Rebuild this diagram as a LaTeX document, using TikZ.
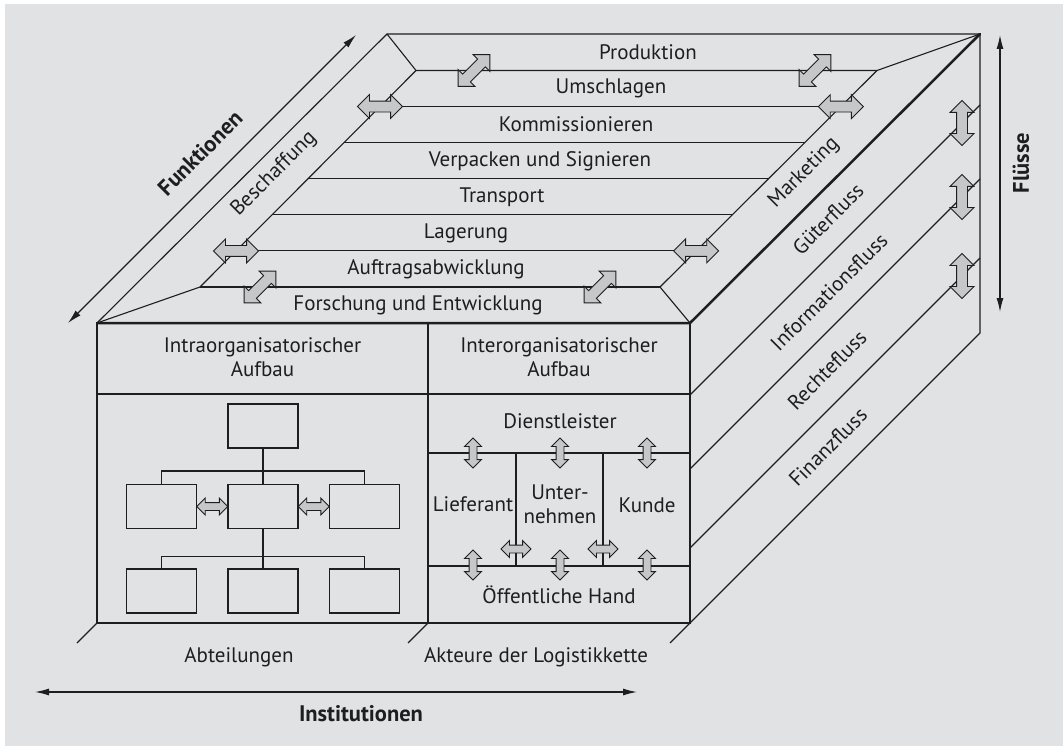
\documentclass[tikz,border=0pt]{standalone}
\usepackage{fontspec}
\setmainfont{PT Sans}
\usetikzlibrary{calc,shapes.arrows,arrows.meta}

\definecolor{panel}{HTML}{E1E2E4}
\definecolor{ink}{HTML}{1E1E1E}
\definecolor{arrowfill}{HTML}{C6C7C9}

\begin{document}
\begin{tikzpicture}[x=1pt, y=-1pt,
    edge/.style={draw=ink, line width=1.1pt},
    rim/.style={draw=ink, line width=2.5pt, line cap=round},
    lbl/.style={font=\fontsize{21}{24}\selectfont, text=ink, inner sep=0pt, align=center},
    axis/.style={font=\bfseries\fontsize{22.5}{25}\selectfont, text=ink, inner sep=0pt},
    axisarrow/.style={draw=ink, line width=1.2pt, {Latex[length=14pt,width=7pt]}-{Latex[length=14pt,width=7pt]}},
    orgbox/.style={draw=ink, line width=1.1pt, minimum width=70pt, minimum height=44pt, inner sep=0pt},
    bigdbl/.style={double arrow, draw=ink, fill=arrowfill, line width=0.9pt, inner sep=0pt,
        inner ysep=5pt, minimum height=45pt, double arrow head extend=6.5pt},
    smalldbl/.style={double arrow, draw=ink, fill=arrowfill, line width=0.9pt, inner sep=0pt,
        inner ysep=3.5pt, minimum height=30pt, double arrow head extend=4.5pt}
]
    \useasboundingbox (0,0) rectangle (1063,746);
    \fill[white] (0,0) rectangle (1063,746);
    \fill[panel] (5,4) rectangle (1063,746);

    % corners of the cube
    \coordinate (ftl) at (97,323);
    \coordinate (ftr) at (690,323);
    \coordinate (fbl) at (97,623);
    \coordinate (fbr) at (690,623);
    \coordinate (btl) at (387,34);
    \coordinate (btr) at (980,34);
    \coordinate (bbr) at (980,333);
    \coordinate (itl) at (416,70.5);
    \coordinate (itr) at (877,70.5);
    \coordinate (ibr) at (660,287);
    \coordinate (ibl) at (200,287);

    % top face: functions
    \draw[edge] (ftl) -- (btl) -- (btr);
    \draw[edge] (btl) -- (itl) -- (itr) -- (btr);
    \draw[edge] (ftl) -- (ibl) -- (itl);
    \draw[edge] (ftr) -- (ibr) -- (itr);
    \draw[edge] (ibl) -- (ibr);
    \foreach \k in {1,...,5}
        \draw[edge] ($(itl)!\k/6!(ibl)$) -- ($(itr)!\k/6!(ibr)$);

    % right face: flows
    \draw[edge] (btr) -- (bbr) -- (fbr);
    \foreach \y/\n in {105/1, 179/2, 258/3}
        \draw[edge] (980,\y) coordinate (fl\n) -- ++(-290,290);

    % front face: institutions
    \draw[draw=ink, line width=1.7pt] (ftl) rectangle (fbr);
    \draw[edge] (97,394) -- (690,394);
    \draw[edge] (428,323) -- (428,623);
    \draw[edge] (428,453) -- (690,453);
    \draw[edge] (428,566) -- (690,566);
    \draw[edge] (516,453) -- (516,566);
    \draw[edge] (603,453) -- (603,566);
    \foreach \x in {97,428,690}
        \draw[edge] (\x,623) -- ++(-20,20);
    \draw[rim] (ftl) -- (ftr) -- (btr);
    \draw[rim] (ftr) -- (fbr);

    % function labels
    \node[lbl] (prod) at (648,52) {Produktion};
    \node[lbl] (umsch) at (611,88) {Umschlagen};
    \node[lbl] (komm) at (576,124) {Kommissionieren};
    \node[lbl] (verp) at (540,161) {Verpacken und Signieren};
    \node[lbl] (trans) at (502,197) {Transport};
    \node[lbl] (lager) at (466,233) {Lagerung};
    \node[lbl] (auftr) at (436,269) {Auftragsabwicklung};
    \node[lbl] (fue) at (418,305) {Forschung und Entwicklung};
    \node[lbl, rotate=45] (besch) at (274,174) {Beschaffung};
    \node[lbl, rotate=45] (mark) at (804,173) {Marketing};

    % flow labels
    \node[lbl, rotate=45] (gut) at (828,219) {Güterfluss};
    \node[lbl, rotate=45] (info) at (829,292) {Informationsfluss};
    \node[lbl, rotate=45] (recht) at (827,370) {Rechtefluss};
    \node[lbl, rotate=45] (fin) at (828,447) {Finanzfluss};

    % arrows on the top and right faces
    \node[bigdbl] (hl1) at ($(itl)!1/6!(ibl)$) {};
    \node[bigdbl] (hr1) at ($(itr)!1/6!(ibr)$) {};
    \node[bigdbl] (hl5) at ($(itl)!5/6!(ibl)$) {};
    \node[bigdbl] (hr5) at ($(itr)!5/6!(ibr)$) {};
    \node[bigdbl, rotate=45] (dt1) at (474,70.5) {};
    \node[bigdbl, rotate=45] (dt2) at (815,70.5) {};
    \node[bigdbl, rotate=45] (db1) at (260,287) {};
    \node[bigdbl, rotate=45] (db2) at (600,287) {};
    \node[bigdbl, rotate=90] (vf1) at (962,123) {};
    \node[bigdbl, rotate=90] (vf2) at (962,197) {};
    \node[bigdbl, rotate=90] (vf3) at (962,276) {};

    % intraorganisational structure
    \node[lbl] (intra) at (262.5,357) {Intraorganisatorischer\\Aufbau};
    \node[orgbox] (top) at (263,426) {};
    \node[orgbox] (midl) at (161.5,506.5) {};
    \node[orgbox] (mid) at (263,506.5) {};
    \node[orgbox] (midr) at (364.5,506.5) {};
    \node[orgbox] (botl) at (161.5,591) {};
    \node[orgbox] (bot) at (263,591) {};
    \node[orgbox] (botr) at (364.5,591) {};
    \draw[edge] (top.south) -- (mid.north);
    \draw[edge] (midl.north) -- ++(0,-13) -| (midr.north);
    \draw[edge] (mid.south) -- (bot.north);
    \draw[edge] (botl.north) -- ++(0,-12) -| (botr.north);
    \node[smalldbl, minimum height=31pt] (oal) at ($(midl.east)!0.5!(mid.west)$) {};
    \node[smalldbl, minimum height=31pt] (oar) at ($(mid.east)!0.5!(midr.west)$) {};

    % interorganisational structure
    \node[lbl] (inter) at (559,357) {Interorganisatorischer\\Aufbau};
    \node[lbl] (dienst) at (560,421) {Dienstleister};
    \node[lbl] (lief) at (473,504) {Lieferant};
    \node[lbl] (unt) at (560,504) {Unter-\\nehmen};
    \node[lbl] (kunde) at (647,505) {Kunde};
    \node[lbl] (oeff) at (559,595) {Öffentliche Hand};
    \foreach \x in {473,560,647} {
        \node[smalldbl, rotate=90] at (\x,453) {};
        \node[smalldbl, rotate=90] at (\x,565) {};
    }
    \node[smalldbl] (au1) at (516,549) {};
    \node[smalldbl] (au2) at (603,549) {};

    % bottom labels
    \node[lbl] (abt) at (239,657) {Abteilungen};
    \node[lbl] (akt) at (536,657) {Akteure der Logistikkette};

    % axes
    \coordinate (funA) at (68,323);
    \coordinate (funB) at (356,35);
    \draw[axisarrow] (funA) -- (funB);
    \node[axis, rotate=45] (fun) at (200,153) {Funktionen};
    \coordinate (fluA) at (1000,35);
    \coordinate (fluB) at (1000,312);
    \draw[axisarrow] (fluA) -- (fluB);
    \node[axis, rotate=90] (flu) at (1021,163) {Flüsse};
    \coordinate (insA) at (35,692);
    \coordinate (insB) at (637,692);
    \draw[axisarrow] (insA) -- (insB);
    \node[axis] (ins) at (361,714) {Institutionen};
\end{tikzpicture}
\end{document}
